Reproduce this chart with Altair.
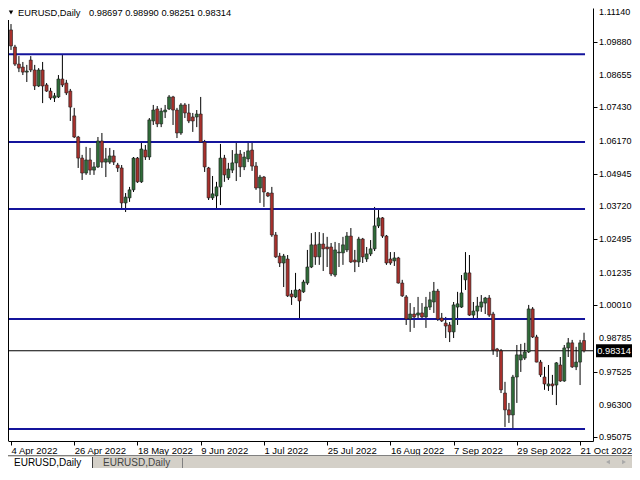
import altair as alt
import pandas as pd

symbol = "EURUSD,Daily"
tick_bars = [0, 16, 32, 48, 64, 80, 96, 112, 128, 144]
tick_labels = ["4 Apr 2022", "26 Apr 2022", "18 May 2022", "9 Jun 2022", "1 Jul 2022",
               "25 Jul 2022", "16 Aug 2022", "7 Sep 2022", "29 Sep 2022", "21 Oct 2022"]
price_ticks = [1.11140, 1.09880, 1.08655, 1.07430, 1.06170, 1.04945, 1.03720,
               1.02495, 1.01235, 1.00010, 0.98785, 0.97525, 0.96300, 0.95075]
levels = [1.0942, 1.0613, 1.0362, 0.9950, 0.9538]

opens = [1.1033, 1.0969, 1.0905, 1.0894, 1.0875, 1.0920, 1.0883, 1.0823, 1.0883, 1.0827,
         1.0804, 1.0778, 1.0782, 1.0849, 1.0834, 1.0804, 1.0711, 1.0632, 1.0553, 1.0497,
         1.0546, 1.0508, 1.0520, 1.0617, 1.0538, 1.0538, 1.0561, 1.0527, 1.0516, 1.0385,
         1.0404, 1.0434, 1.0553, 1.0464, 1.0583, 1.0557, 1.0692, 1.0737, 1.0681, 1.0726,
         1.0737, 1.0782, 1.0733, 1.0647, 1.0752, 1.0722, 1.0707, 1.0707, 1.0718, 1.0613,
         1.0516, 1.0404, 1.0411, 1.0445, 1.0553, 1.0479, 1.0508, 1.0535, 1.0568, 1.0520,
         1.0550, 1.0583, 1.0523, 1.0441, 1.0482, 1.0422, 1.0422, 1.0265, 1.0186, 1.0160,
         1.0175, 1.0044, 1.0033, 1.0059, 1.0052, 1.0085, 1.0145, 1.0228, 1.0183, 1.0231,
         1.0220, 1.0220, 1.0115, 1.0198, 1.0198, 1.0209, 1.0261, 1.0171, 1.0164, 1.0250,
         1.0175, 1.0194, 1.0213, 1.0299, 1.0329, 1.0261, 1.0175, 1.0168, 1.0179, 1.0085,
         1.0033, 0.9950, 0.9969, 0.9965, 0.9973, 0.9958, 0.9995, 1.0014, 1.0055, 0.9954,
         0.9935, 0.9928, 0.9902, 0.9995, 0.9995, 1.0097, 1.0123, 0.9965, 0.9980, 0.9995,
         1.0010, 1.0029, 0.9969, 0.9838, 0.9831, 0.9673, 0.9610, 0.9591, 0.9733, 0.9797,
         0.9804, 0.9827, 0.9988, 0.9883, 0.9789, 0.9733, 0.9700, 0.9707, 0.9703, 0.9778,
         0.9718, 0.9842, 0.9861, 0.9771, 0.9789, 0.98697]
highs = [1.1055, 1.0977, 1.0935, 1.0913, 1.0902, 1.0935, 1.0902, 1.0890, 1.0913, 1.0834,
         1.0816, 1.0797, 1.0864, 1.0939, 1.0846, 1.0812, 1.0741, 1.0636, 1.0565, 1.0595,
         1.0591, 1.0538, 1.0632, 1.0647, 1.0591, 1.0591, 1.0583, 1.0535, 1.0527, 1.0422,
         1.0445, 1.0557, 1.0557, 1.0613, 1.0602, 1.0703, 1.0752, 1.0748, 1.0741, 1.0752,
         1.0789, 1.0786, 1.0741, 1.0759, 1.0759, 1.0756, 1.0722, 1.0733, 1.0782, 1.0621,
         1.0520, 1.0486, 1.0464, 1.0606, 1.0565, 1.0535, 1.0583, 1.0610, 1.0583, 1.0576,
         1.0610, 1.0610, 1.0538, 1.0490, 1.0486, 1.0426, 1.0445, 1.0276, 1.0198, 1.0194,
         1.0190, 1.0059, 1.0123, 1.0063, 1.0097, 1.0209, 1.0272, 1.0276, 1.0276, 1.0272,
         1.0258, 1.0235, 1.0239, 1.0235, 1.0258, 1.0276, 1.0291, 1.0209, 1.0258, 1.0254,
         1.0220, 1.0246, 1.0370, 1.0366, 1.0332, 1.0265, 1.0201, 1.0201, 1.0183, 1.0097,
         1.0040, 1.0010, 0.9995, 1.0033, 1.0010, 1.0033, 1.0052, 1.0089, 1.0063, 0.9973,
         0.9958, 0.9939, 1.0014, 1.0052, 1.0115, 1.0201, 1.0190, 1.0014, 1.0033, 1.0040,
         1.0033, 1.0040, 0.9977, 0.9842, 0.9838, 0.9715, 0.9636, 0.9741, 0.9853, 0.9857,
         0.9861, 1.0003, 0.9995, 0.9891, 0.9797, 0.9771, 0.9778, 0.9741, 0.9789, 0.9808,
         0.9853, 0.9879, 0.9872, 0.9846, 0.9872, 0.98990]
lows = [1.0958, 1.0898, 1.0875, 1.0864, 1.0838, 1.0875, 1.0808, 1.0819, 1.0759, 1.0801,
        1.0771, 1.0763, 1.0778, 1.0819, 1.0789, 1.0692, 1.0628, 1.0516, 1.0471, 1.0490,
        1.0490, 1.0490, 1.0516, 1.0516, 1.0482, 1.0531, 1.0527, 1.0501, 1.0366, 1.0351,
        1.0389, 1.0426, 1.0460, 1.0460, 1.0546, 1.0546, 1.0677, 1.0669, 1.0669, 1.0703,
        1.0733, 1.0677, 1.0628, 1.0640, 1.0703, 1.0684, 1.0651, 1.0669, 1.0610, 1.0501,
        1.0396, 1.0396, 1.0359, 1.0377, 1.0464, 1.0471, 1.0497, 1.0467, 1.0482, 1.0508,
        1.0538, 1.0505, 1.0434, 1.0385, 1.0370, 1.0407, 1.0258, 1.0179, 1.0145, 1.0070,
        1.0033, 1.0003, 1.0029, 0.9947, 1.0048, 1.0078, 1.0141, 1.0153, 1.0153, 1.0130,
        1.0145, 1.0111, 1.0108, 1.0145, 1.0153, 1.0201, 1.0160, 1.0126, 1.0145, 1.0160,
        1.0164, 1.0186, 1.0205, 1.0291, 1.0254, 1.0153, 1.0153, 1.0149, 1.0083, 1.0033,
        0.9928, 0.9902, 0.9917, 0.9954, 0.9954, 0.9917, 0.9984, 0.9973, 0.9943, 0.9939,
        0.9879, 0.9864, 0.9879, 0.9928, 0.9992, 1.0059, 0.9962, 0.9954, 0.9947, 0.9977,
        0.9969, 0.9958, 0.9816, 0.9808, 0.9673, 0.9546, 0.9561, 0.9542, 0.9636, 0.9752,
        0.9797, 0.9823, 0.9879, 0.9788, 0.9733, 0.9685, 0.9681, 0.9666, 0.9628, 0.9715,
        0.9715, 0.9808, 0.9767, 0.9759, 0.9703, 0.98251]
closes = [1.0973, 1.0905, 1.0890, 1.0875, 1.0879, 1.0883, 1.0823, 1.0883, 1.0823, 1.0804,
          1.0778, 1.0786, 1.0849, 1.0827, 1.0797, 1.0744, 1.0632, 1.0553, 1.0497, 1.0546,
          1.0508, 1.0520, 1.0617, 1.0538, 1.0550, 1.0561, 1.0538, 1.0516, 1.0385, 1.0407,
          1.0434, 1.0553, 1.0464, 1.0587, 1.0557, 1.0696, 1.0733, 1.0681, 1.0729, 1.0733,
          1.0782, 1.0733, 1.0647, 1.0752, 1.0722, 1.0692, 1.0692, 1.0718, 1.0613, 1.0520,
          1.0404, 1.0419, 1.0445, 1.0553, 1.0490, 1.0512, 1.0535, 1.0568, 1.0520, 1.0557,
          1.0580, 1.0523, 1.0441, 1.0482, 1.0426, 1.0411, 1.0265, 1.0183, 1.0160, 1.0186,
          1.0037, 1.0033, 1.0059, 1.0018, 1.0089, 1.0145, 1.0228, 1.0183, 1.0231, 1.0213,
          1.0213, 1.0119, 1.0209, 1.0201, 1.0228, 1.0261, 1.0164, 1.0164, 1.0250, 1.0183,
          1.0194, 1.0213, 1.0299, 1.0329, 1.0261, 1.0160, 1.0160, 1.0179, 1.0085, 1.0037,
          0.9950, 0.9969, 0.9958, 0.9973, 0.9958, 0.9995, 1.0022, 1.0055, 0.9950, 0.9943,
          0.9924, 0.9902, 1.0003, 1.0007, 1.0048, 1.0123, 0.9965, 0.9980, 0.9999, 1.0014,
          1.0029, 0.9965, 0.9834, 0.9831, 0.9685, 0.9610, 0.9591, 0.9733, 0.9816, 0.9816,
          0.9827, 0.9988, 0.9883, 0.9789, 0.9741, 0.9707, 0.9707, 0.9700, 0.9786, 0.9718,
          0.9842, 0.9861, 0.9771, 0.9789, 0.9861, 0.98314]

n = len(opens)
df = pd.DataFrame({"bar": list(range(n)), "open": opens, "high": highs,
                   "low": lows, "close": closes})
df["dir"] = ["up" if c >= o else "down" for o, c in zip(opens, closes)]

last_price = closes[-1]
ohlc_text = " ".join(f"{v:.5f}" for v in [opens[-1], highs[-1], lows[-1], closes[-1]])

FONT = "Liberation Sans"
W, H = 585, 433
TOTAL_W, TOTAL_H = 624, 460
xs = alt.Scale(domain=[-0.76, 147.27], nice=False, zero=False, padding=0)
ys = alt.Scale(domain=[0.94934, 1.11151], nice=False, zero=False, padding=0)

label_arr = "[" + ",".join("'" + t + "'" for t in tick_labels) + "]"
x_axis = alt.Axis(values=tick_bars, labelExpr=label_arr + "[round(datum.value / 16)]",
                  orient="bottom", tickSize=4, tickColor="black", domainColor="black",
                  labelAlign="left", labelBaseline="top", labelPadding=0,
                  labelFont=FONT, labelFontSize=9.5, labelColor="black",
                  labelFlush=False, labelOverlap=False, grid=False, title=None)
# y axis: domain line and ticks only; the price labels are drawn as text layers
y_axis = alt.Axis(values=price_ticks, orient="right", tickSize=4,
                  tickColor="black", domainColor="black", labels=False,
                  grid=False, title=None)

base = alt.Chart(df)

wicks = base.mark_rule(color="black", strokeWidth=1).encode(
    x=alt.X("bar:Q", scale=xs, axis=x_axis),
    y=alt.Y("low:Q", scale=ys, axis=y_axis),
    y2="high:Q",
)
bodies = base.mark_bar(size=3, stroke="#1c1c1c", strokeWidth=0.6).encode(
    x=alt.X("bar:Q", scale=xs),
    y=alt.Y("open:Q", scale=ys),
    y2="close:Q",
    color=alt.Color("dir:N", scale=alt.Scale(domain=["up", "down"],
                                             range=["#2f6b38", "#a8302c"]), legend=None),
)

tick_df = pd.DataFrame({"p": price_ticks[1:]})
top_df = pd.DataFrame({"p": price_ticks[:1]})
ylabels = alt.Chart(tick_df).mark_text(font=FONT, fontSize=9, align="left",
                                       baseline="middle", color="black").encode(
    x=alt.value(591), y=alt.Y("p:Q", scale=ys), text=alt.Text("p:Q", format=".5f"))
ylabel_top = alt.Chart(top_df).mark_text(font=FONT, fontSize=9, align="left",
                                         baseline="middle", color="black", dy=4).encode(
    x=alt.value(591), y=alt.Y("p:Q", scale=ys), text=alt.Text("p:Q", format=".5f"))

lv = pd.DataFrame({"level": levels, "x0": [-0.76] * len(levels), "x1": [145.25] * len(levels)})
hlines = alt.Chart(lv).mark_rule(color="#14149c", strokeWidth=2).encode(
    x=alt.X("x0:Q", scale=xs), x2="x1:Q",
    y=alt.Y("level:Q", scale=ys),
)

pdf = pd.DataFrame({"price": [last_price]})
pline = alt.Chart(pdf).mark_rule(color="black", strokeWidth=1).encode(
    y=alt.Y("price:Q", scale=ys))
pbox = alt.Chart(pdf).mark_point(shape="M-1,-0.36L1,-0.36L1,0.36L-1,0.36Z",
                                 size=1296, filled=True, color="black", opacity=1,
                                 strokeWidth=0).encode(
    x=alt.value(606), y=alt.Y("price:Q", scale=ys))
ptext = alt.Chart(pdf).mark_text(color="white", font=FONT, fontSize=9.3, align="center",
                                 baseline="middle").encode(
    x=alt.value(606), y=alt.Y("price:Q", scale=ys),
    text=alt.Text("price:Q", format=".5f"))

one = pd.DataFrame({"sym": [symbol], "ohlc": [ohlc_text]})
tri = alt.Chart(one).mark_point(shape="triangle-down", filled=True, color="black",
                                opacity=1, size=20).encode(x=alt.value(3), y=alt.value(4.5))
title1 = alt.Chart(one).mark_text(font=FONT, fontSize=9.3, align="left", baseline="middle",
                                  color="black").encode(
    x=alt.value(10), y=alt.value(4.5), text="sym:N")
title2 = alt.Chart(one).mark_text(font=FONT, fontSize=9.3, align="left", baseline="middle",
                                  color="black").encode(
    x=alt.value(81), y=alt.value(4.5), text="ohlc:N")


def rect(x, x2, y, y2, color):
    return alt.Chart(one).mark_rect(color=color, opacity=1).encode(
        x=alt.value(x), x2=alt.value(x2), y=alt.value(y), y2=alt.value(y2))


left_edge = rect(0, 1, 12, 433, "#000000")
sep = rect(0, TOTAL_W, 447, 448, "#808080")
tabbar = rect(0, TOTAL_W, 448, TOTAL_H, "#d4d0c8")
tab_active = rect(0, 84, 449, TOTAL_H, "#ffffff")
tab_active_edge = rect(84, 85, 449, TOTAL_H, "#404040")
tab2_edge = rect(174, 175, 450, TOTAL_H, "#808080")
tab1_text = alt.Chart(one).mark_text(font=FONT, fontSize=10, align="left", baseline="middle",
                                     color="black").encode(
    x=alt.value(6), y=alt.value(455), text="sym:N")
tab2_text = alt.Chart(one).mark_text(font=FONT, fontSize=10, align="left", baseline="middle",
                                     color="#444444").encode(
    x=alt.value(95), y=alt.value(455), text="sym:N")
arr_l = alt.Chart(one).mark_point(shape="triangle-left", filled=True, color="#a8a8a8",
                                  opacity=1, size=20).encode(x=alt.value(600), y=alt.value(454))
arr_r = alt.Chart(one).mark_point(shape="triangle-right", filled=True, color="#a8a8a8",
                                  opacity=1, size=20).encode(x=alt.value(616), y=alt.value(454))

chart = alt.layer(
    wicks, hlines, pline, bodies, ylabels, ylabel_top, pbox, ptext, tri, title1, title2,
    left_edge, sep, tabbar, tab_active, tab_active_edge, tab2_edge, tab1_text, tab2_text,
    arr_l, arr_r,
).properties(
    width=W, height=H,
    padding={"left": 0, "top": 0, "right": TOTAL_W - W, "bottom": TOTAL_H - H},
    autosize=alt.AutoSizeParams(type="none"),
    background="white",
).configure_view(
    strokeWidth=0
).configure_axis(
    labelOverlap=False, labelFlush=False
)

chart.save("out.html", embed_options={"renderer": "svg", "actions": False})
